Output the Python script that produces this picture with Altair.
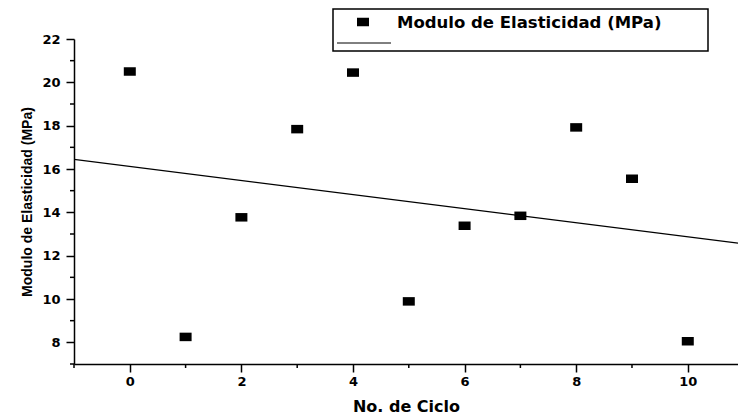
import altair as alt
import pandas as pd

# Data
ciclo = [0, 1, 2, 3, 4, 5, 6, 7, 8, 9, 10]
modulo = [20.5, 8.25, 13.77, 17.84, 20.45, 9.89, 13.38, 13.84, 17.92, 15.55, 8.05]
x_major = [0, 2, 4, 6, 8, 10]
x_minor = [-1, 1, 3, 5, 7, 9]
y_major = [8, 10, 12, 14, 16, 18, 20, 22]
y_minor = [7, 9, 11, 13, 15, 17, 19, 21]
legend_label = ["Modulo de Elasticidad (MPa)"]

df = pd.DataFrame({"ciclo": ciclo, "modulo": modulo})
leg = pd.DataFrame({"label": legend_label})
xm = pd.DataFrame({"v": x_minor})
ym = pd.DataFrame({"v": y_minor})

LABEL_FONT = "DejaVu Sans"
rect_path = "M-1.2,-0.85 L1.2,-0.85 L1.2,0.85 L-1.2,0.85 Z"

x_scale = alt.Scale(domain=[-1, 10.9], nice=False, zero=False)
y_scale = alt.Scale(domain=[7, 22], nice=False, zero=False)

x_axis = alt.Axis(
    values=x_major, format="d",
    tickSize=8, labelOverlap=False, grid=False,
    domainColor="black", domainWidth=1.5,
    tickColor="black", tickWidth=1.5,
    labelFont=LABEL_FONT, labelFontSize=13, labelFontWeight="bold", labelColor="black",
    labelPadding=3,
    title="No. de Ciclo",
    titleFont=LABEL_FONT, titleFontSize=16, titleFontWeight="bold", titleColor="black",
    titlePadding=10,
)
y_axis = alt.Axis(
    values=y_major, format="d",
    tickSize=8, labelOverlap=False, grid=False,
    domainColor="black", domainWidth=1.5,
    tickColor="black", tickWidth=1.5,
    labelFont=LABEL_FONT, labelFontSize=13, labelFontWeight="bold", labelColor="black",
    labelPadding=6,
    title="Modulo de Elasticidad (MPa)",
    titleFont="Liberation Sans", titleFontSize=14, titleFontWeight="bold", titleColor="black",
    titlePadding=7,
)

base = alt.Chart(df)

points = base.mark_point(
    shape=rect_path, filled=True, color="black", opacity=1, size=100
).encode(
    x=alt.X("ciclo:Q", scale=x_scale, axis=x_axis),
    y=alt.Y("modulo:Q", scale=y_scale, axis=y_axis),
)

fit = base.transform_regression(
    "ciclo", "modulo", extent=[-1, 10.9]
).mark_line(color="black", strokeWidth=1.2, clip=True).encode(
    x=alt.X("ciclo:Q", scale=x_scale, axis=x_axis),
    y=alt.Y("modulo:Q", scale=y_scale, axis=y_axis),
)

# Minor ticks at odd values, placed through the shared scales
x_minor_ticks = alt.Chart(xm).mark_rule(color="black", strokeWidth=1.5).encode(
    x=alt.X("v:Q", scale=x_scale, axis=x_axis),
    y=alt.value(325), y2=alt.value(329),
)
y_minor_ticks = alt.Chart(ym).mark_rule(color="black", strokeWidth=1.5).encode(
    y=alt.Y("v:Q", scale=y_scale, axis=y_axis),
    x=alt.value(-4), x2=alt.value(0),
)

# Legend drawn as a small layered block
leg_box = alt.Chart(leg).mark_rect(
    fill="white", stroke="black", strokeWidth=1.5
).encode(
    x=alt.value(259), x2=alt.value(634), y=alt.value(-30), y2=alt.value(12)
)
leg_sym = alt.Chart(leg).mark_point(
    shape=rect_path, filled=True, color="black", opacity=1, size=100
).encode(x=alt.value(289), y=alt.value(-17))
leg_text = alt.Chart(leg).mark_text(
    align="left", baseline="middle", font=LABEL_FONT, fontSize=16.5,
    fontWeight="bold", color="black"
).encode(x=alt.value(323), y=alt.value(-16), text="label:N")
leg_line = alt.Chart(leg).mark_rule(color="black", strokeWidth=1).encode(
    x=alt.value(263), x2=alt.value(317), y=alt.value(4)
)

chart = alt.layer(
    fit, points, x_minor_ticks, y_minor_ticks, leg_box, leg_sym, leg_text, leg_line
).properties(
    width=664,
    height=325,
    autosize=alt.AutoSizeParams(type="none"),
    padding={"left": 74, "top": 39, "right": 0, "bottom": 51},
    background="white",
).configure_view(stroke=None)

chart.save("out.html", embed_options={"renderer": "svg", "actions": False})
